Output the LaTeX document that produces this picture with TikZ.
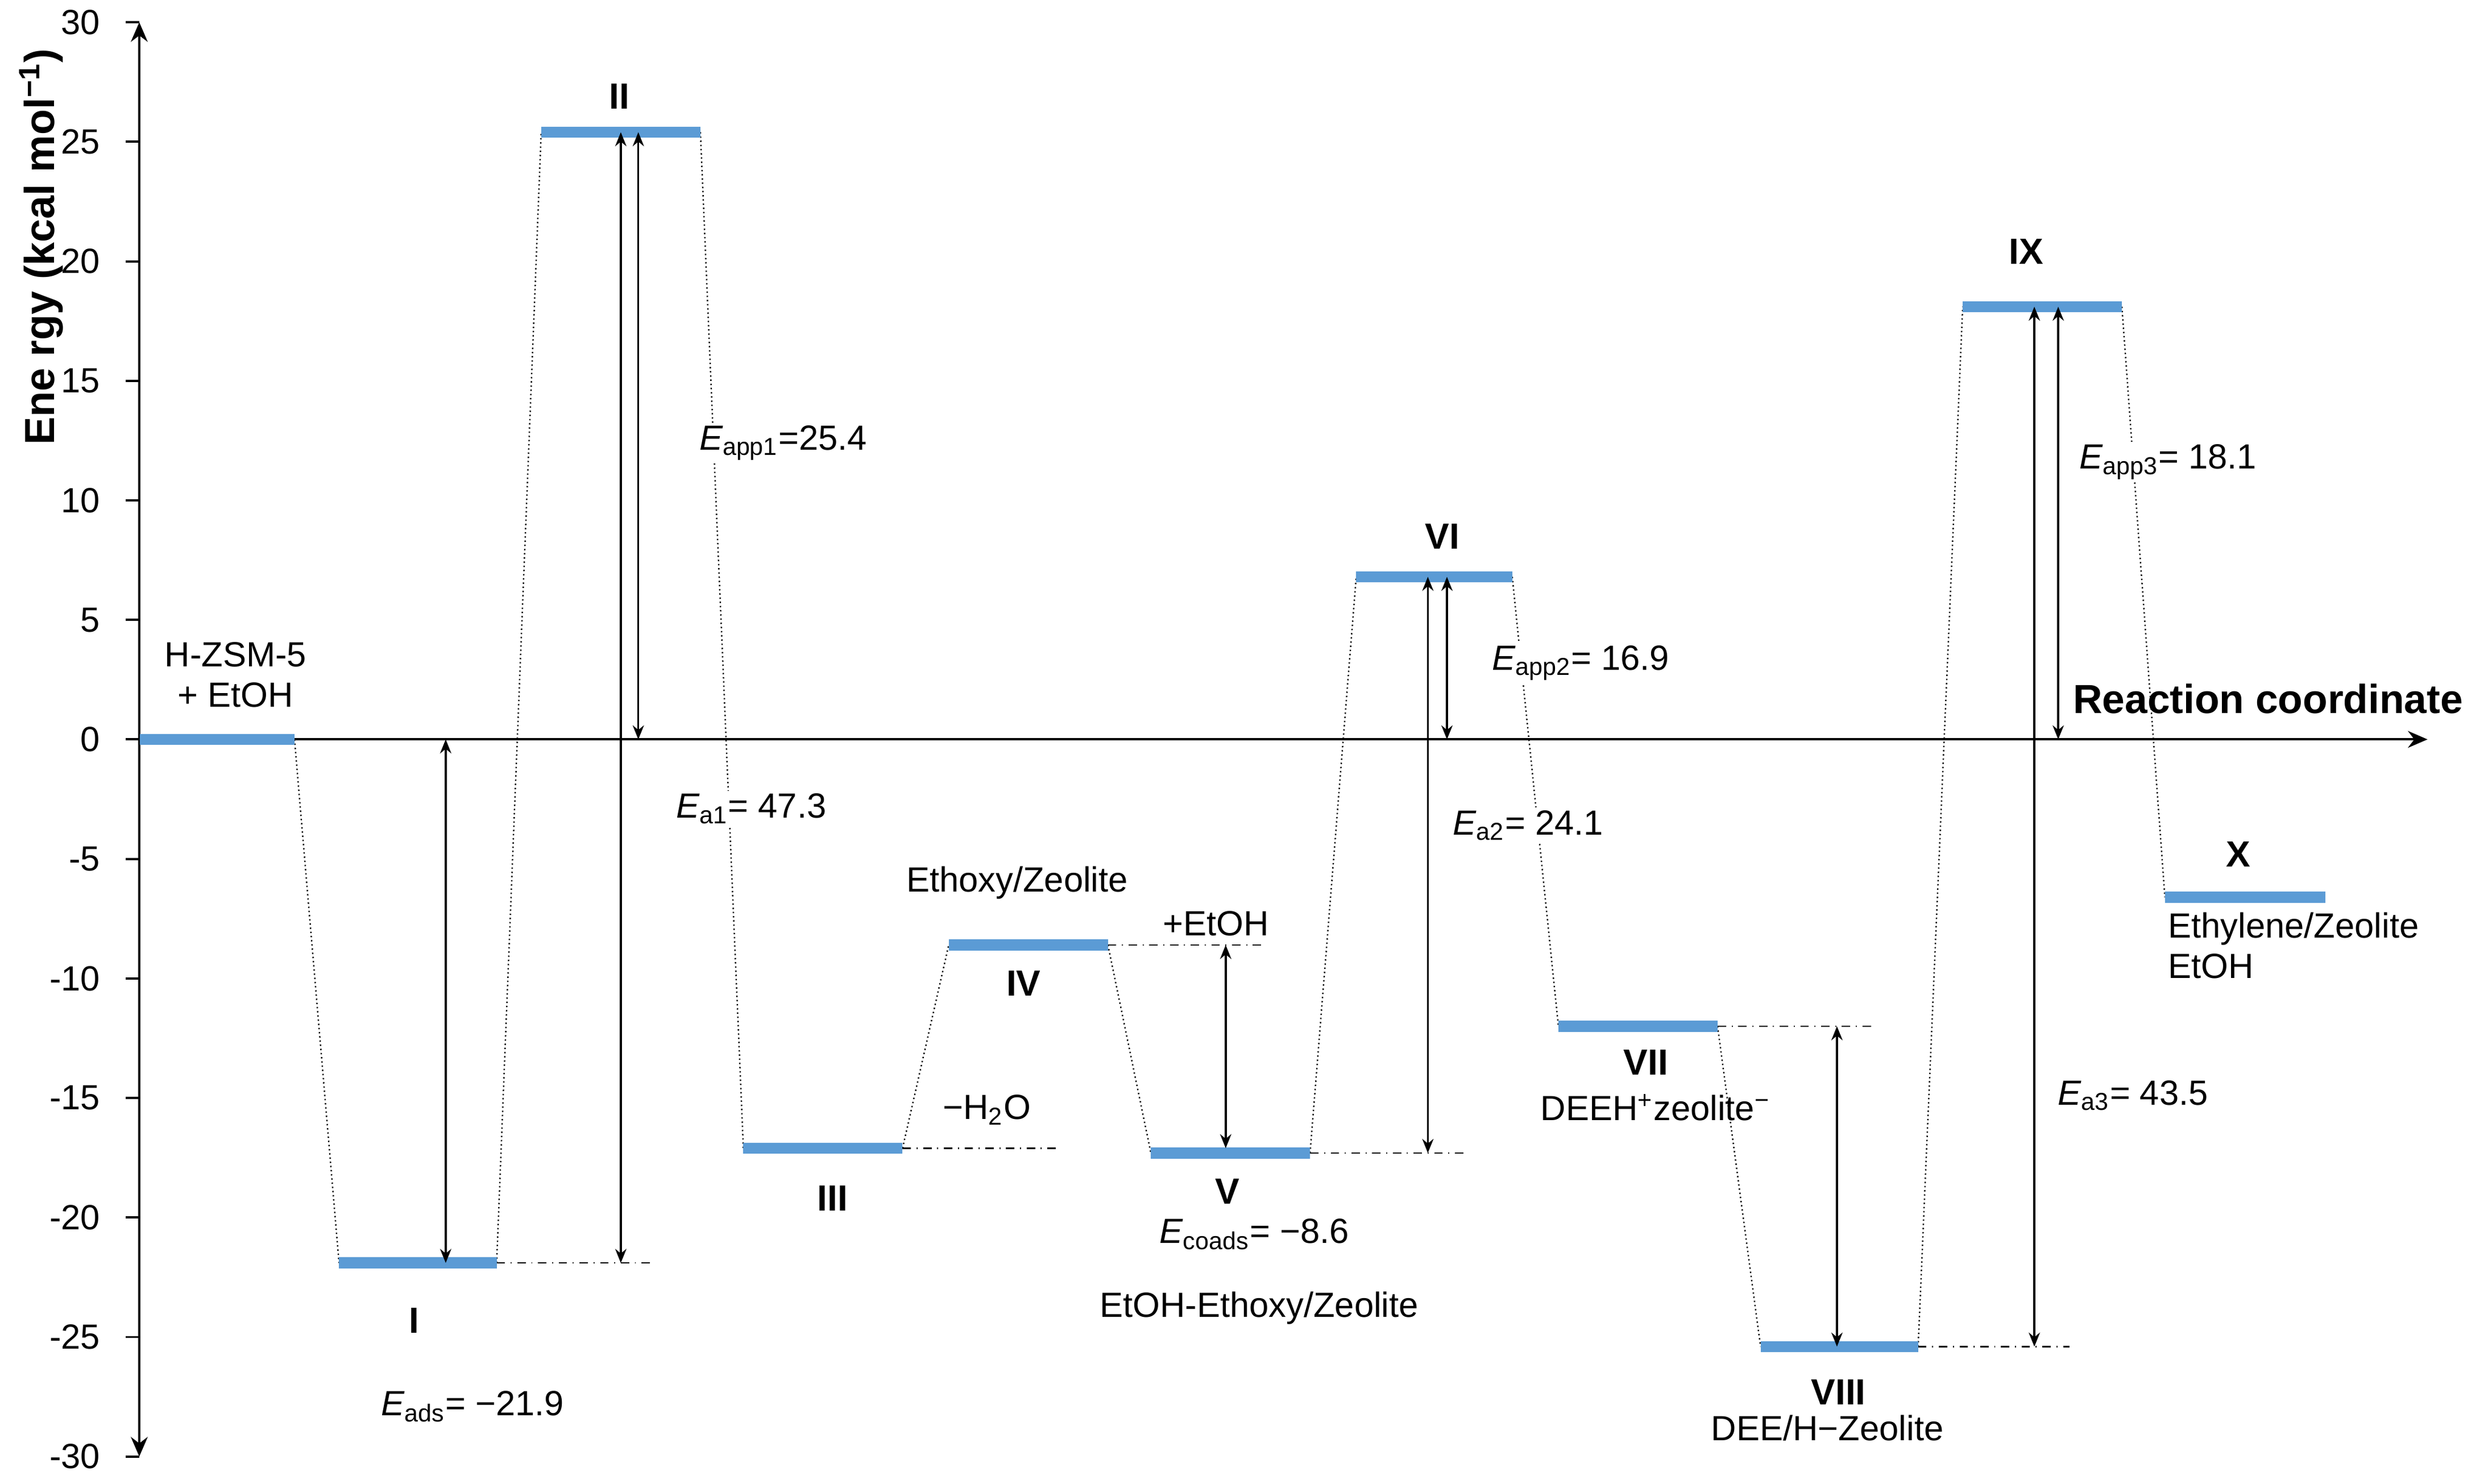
\documentclass[tikz,border=0pt]{standalone}
\usepackage{fontspec}
\setmainfont{Liberation Sans}
\usetikzlibrary{arrows.meta}
\definecolor{lev}{RGB}{91,155,213}
\begin{document}
\begin{tikzpicture}[x=0.02cm,y=0.3004cm,
  level/.style={draw=lev,line width=4pt},
  dot/.style={densely dotted,line width=0.5pt},
  dd/.style={dash dot,line width=0.5pt},
  dbl/.style={{Stealth[length=5pt,width=4pt]}-{Stealth[length=5pt,width=4pt]},line width=0.7pt},
  lab/.style={font=\fontsize{12.5}{14.5}\selectfont,inner sep=1pt},
  rom/.style={font=\bfseries\fontsize{13}{15}\selectfont,inner sep=1pt}]
\useasboundingbox (0,-31.13) rectangle (1563,30.93);
% axes
\draw[line width=0.8pt,{Stealth[length=7pt,width=6pt]}-{Stealth[length=7pt,width=6pt]}] (87.5,-30) -- (87.5,30);
\foreach \v in {30,25,...,-30}{
  \draw[line width=0.8pt] (79,\v) -- (87.5,\v);
  \node[lab,anchor=east] at (65,\v) {\v};
}
\draw[line width=0.8pt,-{Stealth[length=7pt,width=6pt]}] (87.5,0) -- (1525,0);
\node[font=\bfseries\fontsize{14.5}{16}\selectfont,anchor=west,inner sep=0] (rc) at (1302,1.7) {Reaction coordinate};
\node[font=\bfseries\fontsize{15}{17}\selectfont,rotate=90] (ylab) at (26,20.6) {Ene rgy (kcal mol\textsuperscript{−1})};
% levels
\coordinate (Z1) at (88,0);   \coordinate (Z2) at (185,0);
\coordinate (I1) at (213,-21.9); \coordinate (I2) at (312,-21.9);
\coordinate (II1) at (340,25.4); \coordinate (II2) at (440,25.4);
\coordinate (III1) at (467,-17.1); \coordinate (III2) at (567,-17.1);
\coordinate (IV1) at (596,-8.6); \coordinate (IV2) at (696,-8.6);
\coordinate (V1) at (723,-17.3); \coordinate (V2) at (823,-17.3);
\coordinate (VI1) at (852,6.8); \coordinate (VI2) at (950,6.8);
\coordinate (VII1) at (979,-12); \coordinate (VII2) at (1079,-12);
\coordinate (VIII1) at (1106,-25.4); \coordinate (VIII2) at (1205,-25.4);
\coordinate (IX1) at (1233,18.1); \coordinate (IX2) at (1333,18.1);
\coordinate (X1) at (1360,-6.6); \coordinate (X2) at (1461,-6.6);
% dotted connectors
\draw[dot] (Z2) -- (I1);
\draw[dot] (I2) -- (II1);
\draw[dot] (II2) -- (III1);
\draw[dot] (III2) -- (IV1);
\draw[dot] (IV2) -- (V1);
\draw[dot] (V2) -- (VI1);
\draw[dot] (VI2) -- (VII1);
\draw[dot] (VII2) -- (VIII1);
\draw[dot] (VIII2) -- (IX1);
\draw[dot] (IX2) -- (X1);
% dash-dot
\coordinate (dI) at (410,-21.9); \draw[dd] (I2) -- (dI);
\coordinate (dIII) at (665,-17.1); \draw[dd] (III2) -- (dIII);
\coordinate (dIV) at (795,-8.6); \draw[dd] (IV2) -- (dIV);
\coordinate (dV) at (922,-17.3); \draw[dd] (V2) -- (dV);
\coordinate (dVII) at (1177,-12); \draw[dd] (VII2) -- (dVII);
\coordinate (dVIII) at (1300,-25.4); \draw[dd] (VIII2) -- (dVIII);
% levels drawn
\foreach \a in {Z,I,II,III,IV,V,VI,VII,VIII,IX,X}{\draw[level] (\a1) -- (\a2);}
% arrows
\coordinate (a1t) at (280,0); \coordinate (a1b) at (280,-21.9);
\draw[dbl] (a1t) -- (a1b);
\coordinate (a2t) at (390,25.4); \coordinate (a2b) at (390,-21.9);
\draw[dbl] (a2t) -- (a2b);
\coordinate (a3t) at (401,25.4); \coordinate (a3b) at (401,0);
\draw[dbl] (a3t) -- (a3b);
\coordinate (a4t) at (770,-8.6); \coordinate (a4b) at (770,-17.1);
\draw[dbl] (a4t) -- (a4b);
\coordinate (a5t) at (897,6.8); \coordinate (a5b) at (897,-17.3);
\draw[dbl] (a5t) -- (a5b);
\coordinate (a6t) at (909,6.8); \coordinate (a6b) at (909,0);
\draw[dbl] (a6t) -- (a6b);
\coordinate (a7t) at (1154,-12); \coordinate (a7b) at (1154,-25.4);
\draw[dbl] (a7t) -- (a7b);
\coordinate (a8t) at (1278,18.1); \coordinate (a8b) at (1278,-25.4);
\draw[dbl] (a8t) -- (a8b);
\coordinate (a9t) at (1293,18.1); \coordinate (a9b) at (1293,0);
\draw[dbl] (a9t) -- (a9b);
% roman labels
\node[rom] (nI) at (260,-24.3) {I};
\node[rom] (nII) at (389,26.9) {II};
\node[rom] (nIII) at (523,-19.2) {III};
\node[rom] (nIV) at (643,-10.2) {IV};
\node[rom] (nV) at (771,-18.9) {V};
\node[rom] (nVI) at (906,8.5) {VI};
\node[rom] (nVII) at (1034,-13.5) {VII};
\node[rom] (nVIII) at (1155,-27.3) {VIII};
\node[rom] (nIX) at (1273,20.4) {IX};
\node[rom] (nX) at (1406,-4.8) {X};
% text labels
\node[lab,align=center] (hz) at (148,2.7) {H-ZSM-5\\+ EtOH};
\node[lab] (eads) at (297,-27.9) {$\mathit{E}$\textsubscript{ads}= −21.9};
\node[lab,fill=white] (eapp1) at (492,12.4) {$\mathit{E}$\textsubscript{app1}=25.4};
\node[lab,fill=white] (ea1) at (472,-2.9) {$\mathit{E}$\textsubscript{a1}= 47.3};
\node[lab] (eth) at (639,-6) {Ethoxy/Zeolite};
\node[lab] (pe) at (764,-7.7) {+EtOH};
\node[lab] (h2o) at (620,-15.5) {−H\textsubscript{2}O};
\node[lab] (ecoads) at (788,-20.7) {$\mathit{E}$\textsubscript{coads}= −8.6};
\node[lab] (eee) at (791,-23.8) {EtOH-Ethoxy/Zeolite};
\node[lab,fill=white] (eapp2) at (993,3.2) {$\mathit{E}$\textsubscript{app2}= 16.9};
\node[lab,fill=white] (ea2) at (960,-3.6) {$\mathit{E}$\textsubscript{a2}= 24.1};
\node[lab] (deeh) at (1040,-15.4) {DEEH\textsuperscript{+}zeolite\textsuperscript{−}};
\node[lab] (dee) at (1148,-28.8) {DEE/H−Zeolite};
\node[lab,fill=white] (eapp3) at (1362,11.6) {$\mathit{E}$\textsubscript{app3}= 18.1};
\node[lab] (ea3) at (1340,-14.9) {$\mathit{E}$\textsubscript{a3}= 43.5};
\node[lab,align=left,anchor=north west] (ethy) at (1360,-7.1) {Ethylene/Zeolite\\EtOH};
\end{tikzpicture}
\end{document}
